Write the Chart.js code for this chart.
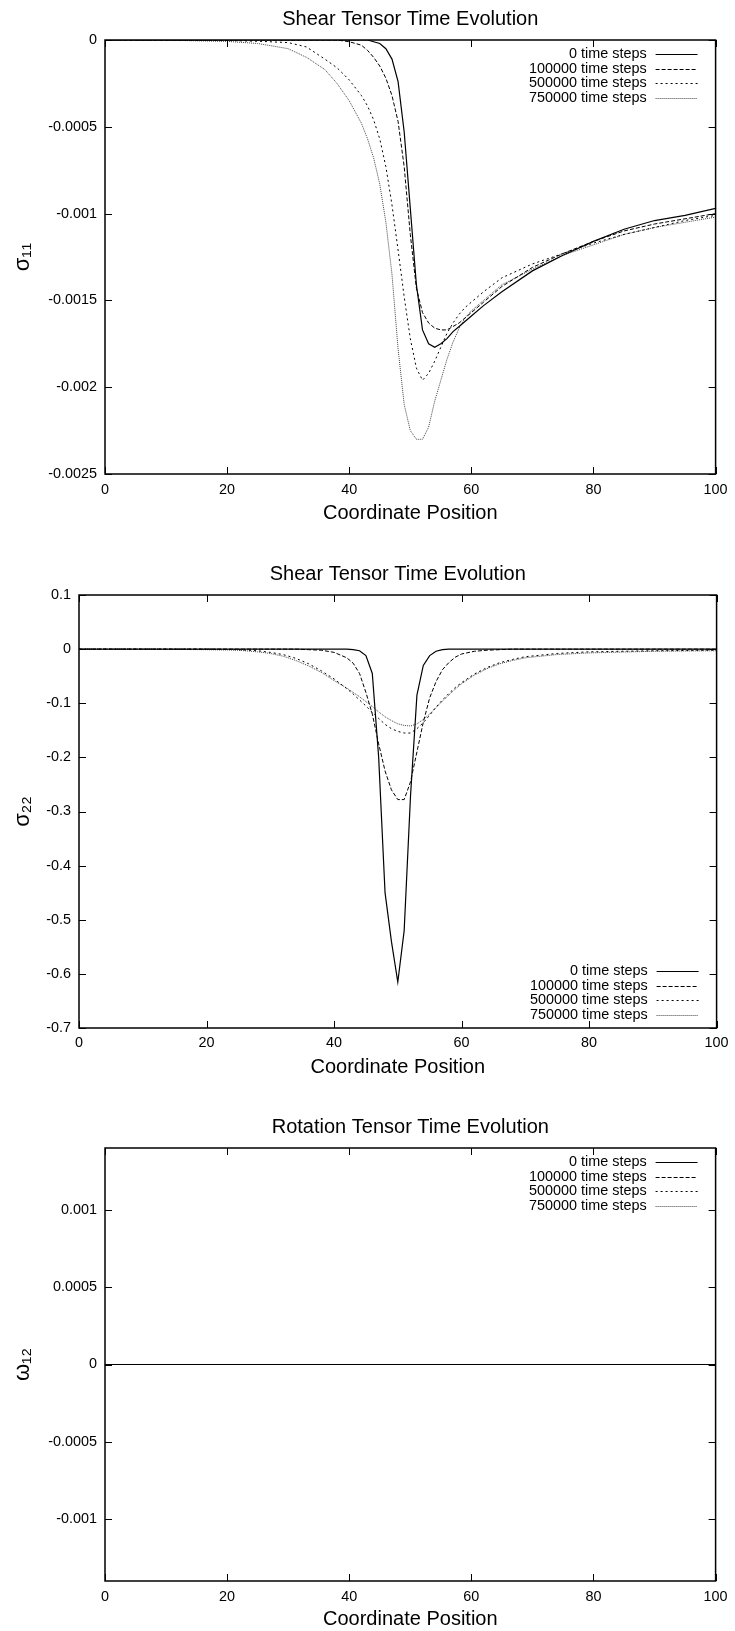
<!DOCTYPE html>
<html>
<head>
<meta charset="utf-8">
<title>Tensor Time Evolution</title>
<script src="https://cdn.jsdelivr.net/npm/chart.js@4.4.1/dist/chart.umd.min.js"></script>
<style>
  body { margin: 0; background: #fff; }
  .wrap { position: relative; width: 735px; height: 1631px; }
  canvas { position: absolute; left: 0; }
</style>
</head>
<body>
<div class="wrap">
  <canvas id="s11" width="735" height="540" style="top:0px"></canvas>
  <canvas id="s22" width="735" height="555" style="top:540px"></canvas>
  <canvas id="w12" width="735" height="536" style="top:1095px"></canvas>
</div>
<script>
const FONT = '"Liberation Sans", Arial, Helvetica, sans-serif';

const seriesLabels = ['0 time steps', '100000 time steps', '500000 time steps', '750000 time steps'];
const xTicks = [0, 20, 40, 60, 80, 100];

// sigma 11
const xS11 = [0, 10, 20, 25, 30, 33, 36, 38, 40, 42, 43, 44, 45, 46, 47, 48, 49, 50, 51, 52, 53, 54, 55, 56, 57, 58, 59, 60, 62, 65, 70, 75, 80, 85, 90, 95, 100];
const s11Step0 = [0, 0, 0, 0, 0, 0, 0, 0, 0, 0, 0, -0.00001, -0.00002, -0.00005, -0.00011, -0.00024, -0.00053, -0.00097, -0.00141, -0.00167, -0.00175, -0.00177, -0.00175, -0.00172, -0.00168, -0.00165, -0.00162, -0.00159, -0.00153, -0.00145, -0.00133, -0.00124, -0.00116, -0.00109, -0.00104, -0.00101, -0.00097];
const s11Step1 = [0, 0, 0, 0, 0, 0, 0, 0, -0.00001, -0.00003, -0.00006, -0.0001, -0.00015, -0.00022, -0.00032, -0.00047, -0.00073, -0.00112, -0.00143, -0.00157, -0.00163, -0.00166, -0.00167, -0.00167, -0.00165, -0.00163, -0.0016, -0.00157, -0.00151, -0.00142, -0.00131, -0.00123, -0.00116, -0.0011, -0.00106, -0.00103, -0.001];
const s11Step2 = [0, 0, -0.000003, -0.000007, -0.000015, -0.00004, -0.00011, -0.00016, -0.00023, -0.00032, -0.00038, -0.00046, -0.00057, -0.00073, -0.00095, -0.00121, -0.00148, -0.00172, -0.00189, -0.00196, -0.00192, -0.00185, -0.00177, -0.00169, -0.00163, -0.00158, -0.00154, -0.00151, -0.00145, -0.00137, -0.00129, -0.00123, -0.00117, -0.00112, -0.00108, -0.00104, -0.00101];
const s11Step3 = [0, -0.000001, -0.000008, -0.00002, -0.00005, -0.0001, -0.00017, -0.00025, -0.00035, -0.00048, -0.00057, -0.00068, -0.00083, -0.00105, -0.00135, -0.00178, -0.0021, -0.00225, -0.0023, -0.0023, -0.00223, -0.00208, -0.00196, -0.00184, -0.00174, -0.00166, -0.0016, -0.00156, -0.0015, -0.00141, -0.00132, -0.00124, -0.00118, -0.00112, -0.00108, -0.00105, -0.00102];
const s11Ticks = [0, -0.0005, -0.001, -0.0015, -0.002, -0.0025];

// sigma 22
const xS22 = [0, 10, 20, 25, 28, 30, 32, 34, 36, 38, 40, 42, 43, 44, 45, 46, 47, 48, 49, 50, 51, 52, 53, 54, 55, 56, 57, 58, 59, 60, 62, 64, 66, 68, 70, 75, 80, 90, 100];
const s22Step0 = [0, 0, 0, 0, 0, 0, 0, 0, 0, 0, 0, 0, -0.001, -0.003, -0.012, -0.045, -0.2, -0.45, -0.54, -0.615, -0.52, -0.27, -0.085, -0.03, -0.012, -0.004, -0.001, 0, 0, 0, 0, 0, 0, 0, 0, 0, 0, 0, 0];
const s22Step1 = [0, 0, 0, 0, 0, 0, 0, 0, -0.001, -0.002, -0.006, -0.016, -0.026, -0.045, -0.08, -0.12, -0.175, -0.225, -0.26, -0.278, -0.278, -0.245, -0.19, -0.135, -0.09, -0.06, -0.038, -0.025, -0.015, -0.009, -0.004, -0.002, -0.001, 0, 0, 0, 0, 0, 0];
const s22Step2 = [0, 0, 0, -0.001, -0.003, -0.006, -0.01, -0.017, -0.027, -0.04, -0.055, -0.073, -0.083, -0.094, -0.105, -0.117, -0.128, -0.139, -0.147, -0.152, -0.155, -0.155, -0.147, -0.136, -0.122, -0.107, -0.094, -0.082, -0.071, -0.062, -0.046, -0.034, -0.025, -0.019, -0.014, -0.008, -0.005, -0.003, -0.002];
const s22Step3 = [0, 0, -0.001, -0.002, -0.005, -0.008, -0.013, -0.021, -0.031, -0.043, -0.058, -0.072, -0.08, -0.088, -0.097, -0.106, -0.116, -0.125, -0.132, -0.138, -0.141, -0.142, -0.138, -0.13, -0.12, -0.108, -0.096, -0.085, -0.074, -0.064, -0.048, -0.036, -0.027, -0.021, -0.016, -0.01, -0.007, -0.004, -0.003];
const s22Ticks = [0.1, 0, -0.1, -0.2, -0.3, -0.4, -0.5, -0.6, -0.7];

// omega 12
const xW12 = [0, 25, 50, 75, 100];
const w12Step0 = [0, 0, 0, 0, 0];
const w12Step1 = [0, 0, 0, 0, 0];
const w12Step2 = [0, 0, 0, 0, 0];
const w12Step3 = [0, 0, 0, 0, 0];
const w12Ticks = [0.001, 0.0005, 0, -0.0005, -0.001];

const lineStyles = [
  { color: '#000', width: 1.2, dash: [] },
  { color: '#000', width: 1, dash: [4, 2] },
  { color: '#000', width: 1, dash: [2, 3] },
  { color: '#444', width: 1, dash: [1, 1] }
];

// gnuplot style frame with inward ticks on all four sides
const frameTicks = {
  id: 'frameTicks',
  afterDatasetsDraw(chart) {
    const { ctx, chartArea: a, scales: { x, y } } = chart;
    const tl = 7;
    ctx.save();
    ctx.strokeStyle = '#000';
    ctx.lineWidth = 1;
    ctx.beginPath();
    x.ticks.forEach(t => {
      const px = Math.round(x.getPixelForValue(t.value)) + 0.5;
      ctx.moveTo(px, a.bottom); ctx.lineTo(px, a.bottom - tl);
      ctx.moveTo(px, a.top); ctx.lineTo(px, a.top + tl);
    });
    y.ticks.forEach(t => {
      const py = Math.round(y.getPixelForValue(t.value)) + 0.5;
      ctx.moveTo(a.left, py); ctx.lineTo(a.left + tl, py);
      ctx.moveTo(a.right, py); ctx.lineTo(a.right - tl, py);
    });
    ctx.stroke();
    ctx.lineWidth = 1.5;
    ctx.strokeRect(a.left, a.top, a.right - a.left, a.bottom - a.top);
    ctx.restore();
  }
};

// key drawn inside the plot: text right aligned, line sample on the right
const insideLegend = {
  id: 'insideLegend',
  afterDraw(chart, args, opts) {
    const { ctx, chartArea: a } = chart;
    const rowH = 14.7;
    const sets = chart.data.datasets;
    const y0 = opts.position === 'bottom' ? a.bottom - 13 - (sets.length - 1) * rowH : a.top + 14;
    ctx.save();
    ctx.font = '14.4px ' + FONT;
    ctx.textAlign = 'right';
    ctx.textBaseline = 'middle';
    sets.forEach((ds, i) => {
      const y = y0 + i * rowH;
      ctx.fillStyle = '#000';
      ctx.fillText(ds.label, a.right - 69, y);
      ctx.strokeStyle = ds.borderColor;
      ctx.lineWidth = ds.borderWidth;
      ctx.setLineDash(ds.borderDash);
      ctx.beginPath();
      ctx.moveTo(a.right - 60, Math.round(y) + 0.5);
      ctx.lineTo(a.right - 18, Math.round(y) + 0.5);
      ctx.stroke();
    });
    ctx.restore();
  }
};

function buildChart(id, cfg) {
  const datasets = cfg.series.map((ys, i) => ({
    label: seriesLabels[i],
    data: cfg.x.map((x, k) => ({ x: x, y: ys[k] })),
    borderColor: lineStyles[i].color,
    borderWidth: lineStyles[i].width,
    borderDash: lineStyles[i].dash,
    pointRadius: 0,
    tension: 0,
    fill: false
  }));

  return new Chart(document.getElementById(id), {
    type: 'line',
    data: { datasets: datasets },
    plugins: [frameTicks, insideLegend],
    options: {
      responsive: false,
      animation: false,
      devicePixelRatio: 1,
      layout: { padding: { left: 0, right: 18, top: 0, bottom: 0 } },
      plugins: {
        legend: { display: false },
        tooltip: { enabled: false },
        title: {
          display: true,
          text: cfg.title,
          fullSize: false,
          color: '#000',
          font: { family: FONT, size: 20, weight: 'normal' },
          padding: cfg.titlePad
        },
        insideLegend: { position: cfg.legendAt }
      },
      scales: {
        x: {
          type: 'linear',
          min: 0,
          max: 100,
          afterBuildTicks: s => { s.ticks = xTicks.map(v => ({ value: v })); },
          afterFit: s => { s.height = cfg.xHeight; },
          grid: { display: false, drawTicks: false },
          border: { display: false },
          ticks: {
            color: '#000',
            autoSkip: false,
            maxRotation: 0,
            padding: cfg.xTickPad,
            font: { family: FONT, size: 14.4 },
            callback: v => String(v)
          },
          title: {
            display: true,
            text: 'Coordinate Position',
            color: '#000',
            font: { family: FONT, size: 20 },
            padding: { top: 0, bottom: cfg.xTitlePad }
          }
        },
        y: {
          type: 'linear',
          min: cfg.yMin,
          max: cfg.yMax,
          afterBuildTicks: s => { s.ticks = cfg.yTicks.map(v => ({ value: v })); },
          afterFit: s => { s.width = cfg.yWidth; },
          grid: { display: false, drawTicks: false },
          border: { display: false },
          ticks: {
            color: '#000',
            autoSkip: false,
            padding: 8,
            font: { family: FONT, size: 14.4 },
            callback: v => String(v)
          },
          title: {
            display: true,
            text: cfg.yTitle,
            color: '#000',
            font: { family: FONT, size: 22 },
            padding: { top: 10, bottom: 0 }
          }
        }
      }
    }
  });
}

buildChart('s11', {
  title: 'Shear Tensor Time Evolution',
  x: xS11,
  series: [s11Step0, s11Step1, s11Step2, s11Step3],
  yMin: -0.0025, yMax: 0, yTicks: s11Ticks,
  yTitle: 'σ₁₁',
  yWidth: 105,
  titlePad: { top: 7, bottom: 9 },
  xHeight: 66, xTickPad: 7.4, xTitlePad: 15,
  legendAt: 'top'
});

buildChart('s22', {
  title: 'Shear Tensor Time Evolution',
  x: xS22,
  series: [s22Step0, s22Step1, s22Step2, s22Step3],
  yMin: -0.7, yMax: 0.1, yTicks: s22Ticks,
  yTitle: 'σ₂₂',
  yWidth: 79,
  titlePad: { top: 22, bottom: 9 },
  xHeight: 67, xTickPad: 6.4, xTitlePad: 16,
  legendAt: 'bottom'
});

buildChart('w12', {
  title: 'Rotation Tensor Time Evolution',
  x: xW12,
  series: [w12Step0, w12Step1, w12Step2, w12Step3],
  yMin: -0.0014, yMax: 0.0014, yTicks: w12Ticks,
  yTitle: 'ω₁₂',
  yWidth: 105,
  titlePad: { top: 20, bottom: 9 },
  xHeight: 50, xTickPad: 7.4, xTitlePad: 0,
  legendAt: 'top'
});
</script>
</body>
</html>
